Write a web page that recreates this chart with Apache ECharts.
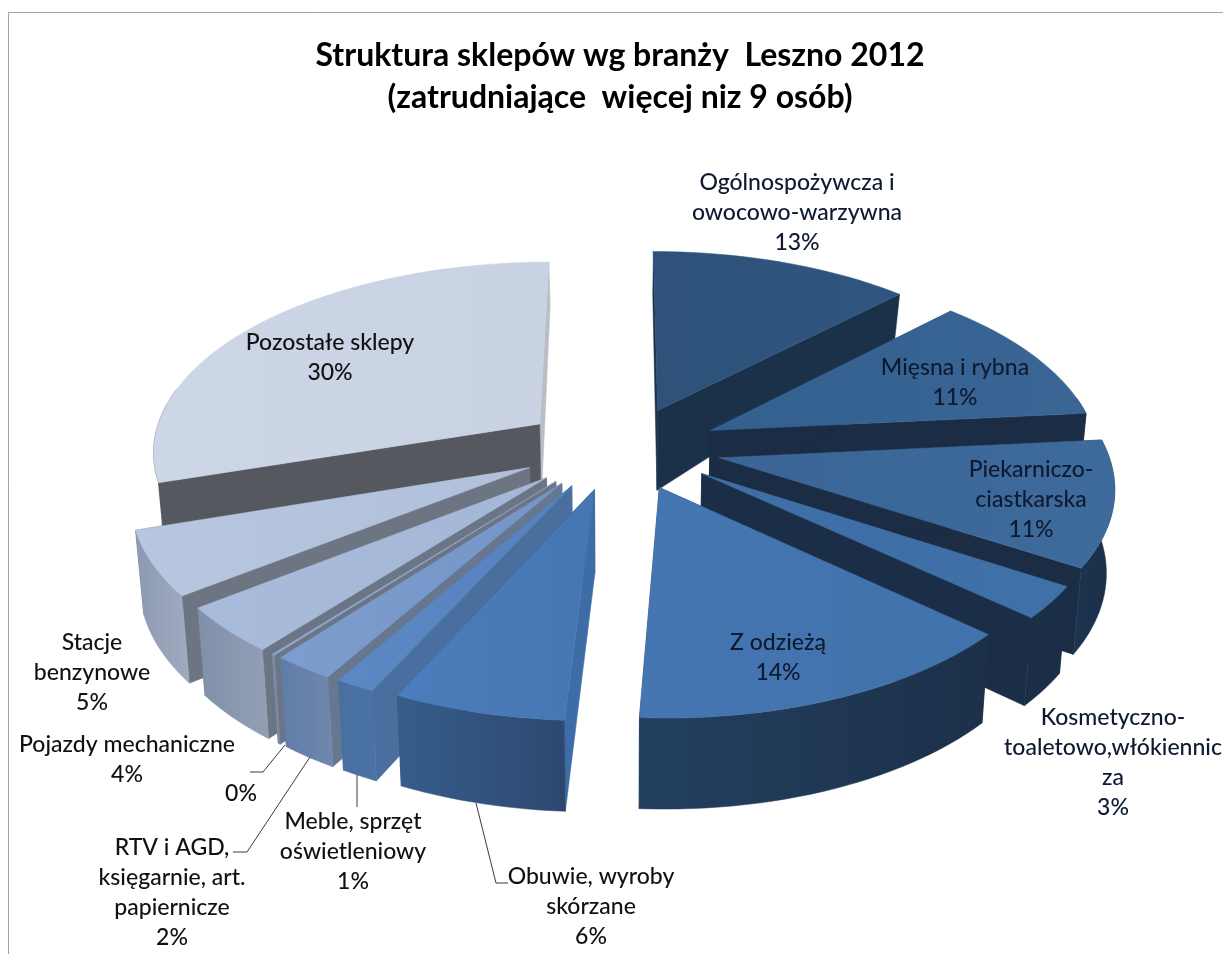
<!DOCTYPE html>
<html>
<head>
<meta charset="utf-8">
<style>
	html,body{margin:0;padding:0;background:#fff;overflow:hidden;}
	#chart{width:1223px;height:954px;}
</style>
<script src="https://cdn.jsdelivr.net/npm/echarts@6/dist/echarts.min.js"></script>
</head>
<body>
<div id="chart"></div>
<script>
var categories = ['Ogólnospożywcza i\nowocowo-warzywna','Mięsna i rybna','Piekarniczo-\nciastkarska','Kosmetyczno-\ntoaletowo,włókiennic\nza','Z odzieżą','Obuwie, wyroby\nskórzane','Meble, sprzęt\noświetleniowy','RTV i AGD,\nksięgarnie, art.\npapiernicze','','Pojazdy mechaniczne','Stacje\nbenzynowe','Pozostałe sklepy'];
// etykiety pokazuja wartosc zaokraglona
var values = [12.5,11.0,10.5,2.7,14.2,6.1,1.4,2.2,0.1,3.9,5.4,30];

var topColors = [['#2e5279','#2f5680'],['#33608f','#3a6594'],['#3a6596','#3e6a9c'],['#3f6ea6','#4070a8'],['#4676b2','#4272ab'],['#4c7dbc','#4676b2'],['#5c89c4','#5582bd'],['#7d9dcf','#7595c8'],['#8fa8d0','#8fa8d0'],['#a9bbda','#a5b7d6'],['#b8c7e0','#b0c0da'],['#cdd6e6','#c9d2e3']];
var sideColors = ['#1b3049','#1a2d45','#1a2d45','#1b2e48','#1d3350','#3e6ca6','#4a6f9f','#66778f','#6c7585','#6c7585','#6d7583','#55585f'];
var farSideColors = ['#1b3049','#1a2d45','#1a2d45','#1b2e48','#1d3350','#2d4a73','#4a6f9f','#66778f','#6c7585','#6c7585','#6d7583','#b9bdc4'];
var outerColors = [['#1b3049','#1b3049'],['#1a2d45','#1a2d45'],['#1d3552','#1a2d45'],['#1b2e48','#1b2e48'],['#234060','#1c3049'],['#375d8b','#2c4870'],['#476f9f','#4a72a3'],['#5f7ca8','#6f88ad'],['#7b8cab','#7b8cab'],['#818fa9','#939fb5'],['#8c99b0','#a0abc0'],['#55585f','#55585f']];

var labelPlaces = [[797,183],[955,368],[1031,470],[1113,718],[778,643],[591,877],[353,822],[172,848],[241,794],[127,745],[92,643],[330,343]];
var leaderLines = [[[285,745],[263,772],[250,772]],[[310,757],[247,852],[233,852]],[[357,775],[357,807]],[[476,803],[496,883],[508,883]]];

// rzut kola na ekran z perspektywa
var CX = 620, CY = 448, A = 388, B = 189, K = 0.131, EXPLODE_X = 0.26, EXPLODE_Y = 0.22, INSET = 0.983;

function project(u, v) {
	var w = 1 - K * v;
	return [CX + A * u / w, CY + B * v / w];
}
function wallDepth(v) {
	if (v < -0.75) return 44;
	if (v < -0.2) return 44 + (v + 0.75) / 0.55 * 36;
	return 80 + (v + 0.2) / 1.4 * 11;
}
function lower(p, v) {
	return [CX + (p[0] - CX) * INSET, p[1] + wallDepth(v)];
}

var total = values.reduce(function (a, b) { return a + b; }, 0);
var slices = [], acc = 0;
values.forEach(function (val, i) {
	var start = acc / total * Math.PI * 2;
	acc += val;
	var end = acc / total * Math.PI * 2;
	var mid = (start + end) / 2;
	slices.push({
		index: i, start: start, end: end, mid: mid,
		ex: EXPLODE_X * Math.sin(mid), ey: -EXPLODE_Y * Math.cos(mid)
	});
});

function rimPoint(s, ang) {
	var v = -Math.cos(ang) + s.ey;
	return { p: project(Math.sin(ang) + s.ex, v), v: v, back: Math.cos(ang) > 0.2 };
}
function grad(c) {
	return new echarts.graphic.LinearGradient(0, 0, 1, 0, [{offset: 0, color: c[0]}, {offset: 1, color: c[1]}]);
}
function poly(points, fill) {
	return { type: 'polygon', shape: { points: points }, style: { fill: fill, stroke: fill, lineWidth: 0.5 } };
}

function renderSlice(params, api) {
	var s = slices[api.value(0)], i = s.index;
	var apex = { p: project(s.ex, s.ey), v: s.ey };
	var n = Math.max(2, Math.ceil((s.end - s.start) / 0.03));
	var rim = [];
	for (var k = 0; k <= n; k++) {
		rim.push(rimPoint(s, s.start + (s.end - s.start) * k / n));
	}
	var top = [apex.p].concat(rim.map(function (r) { return r.p; }));
	// tylna czesc obrzeza nie jest widoczna
	var front = rim.filter(function (r) { return !r.back; });
	var outer = front.map(function (r) { return r.p; }).concat(front.map(function (r) { return lower(r.p, r.v); }).reverse());
	function wall(r, color) {
		return poly([apex.p, r.p, lower(r.p, r.v), lower(apex.p, apex.v)], color);
	}
	var children = [wall(rim[n], farSideColors[i]), wall(rim[0], sideColors[i])];
	if (front.length > 1) children.push(poly(outer, grad(outerColors[i])));
	children.push(poly(top, grad(topColors[i])));
	return { type: 'group', children: children };
}

// od tylu do przodu
var order = slices.slice().sort(function (a, b) {
	return -Math.cos(a.mid) - -Math.cos(b.mid);
}).map(function (s) { return [s.index]; });

var graphics = [{
	type: 'rect', z: 1, silent: true,
	shape: { x: 8.5, y: 12.5, width: 1400, height: 1200 },
	style: { fill: 'none', stroke: '#a3a3a3', lineWidth: 1 }
}];
leaderLines.forEach(function (pts) {
	graphics.push({ type: 'polyline', z: 10, shape: { points: pts }, style: { fill: 'none', stroke: '#3a3a3a', lineWidth: 1 } });
});
categories.forEach(function (name, i) {
	var txt = (name ? name + '\n' : '') + Math.round(values[i]) + '%';
	graphics.push({
		type: 'text', z: 11,
		x: labelPlaces[i][0], y: labelPlaces[i][1] - 15,
		style: {
			text: txt, fill: i < 5 ? '#0e1a30' : '#111', align: 'center', verticalAlign: 'top',
			font: '500 23px Lato', lineHeight: 30
		}
	});
});

var chart = echarts.init(document.getElementById('chart'), null, { renderer: 'canvas' });
chart.setOption({
	animation: false,
	backgroundColor: '#fff',
	title: {
		text: 'Struktura sklepów wg branży  Leszno 2012\n(zatrudniające  więcej niz 9 osób)',
		left: 615, top: 30, textAlign: 'center',
		textStyle: { fontFamily: 'Lato', fontWeight: 'bold', fontSize: 32, lineHeight: 42, color: '#000' }
	},
	graphic: graphics,
	series: [{
		type: 'custom',
		coordinateSystem: 'none',
		silent: true,
		renderItem: renderSlice,
		data: order
	}]
});
</script>
</body>
</html>
